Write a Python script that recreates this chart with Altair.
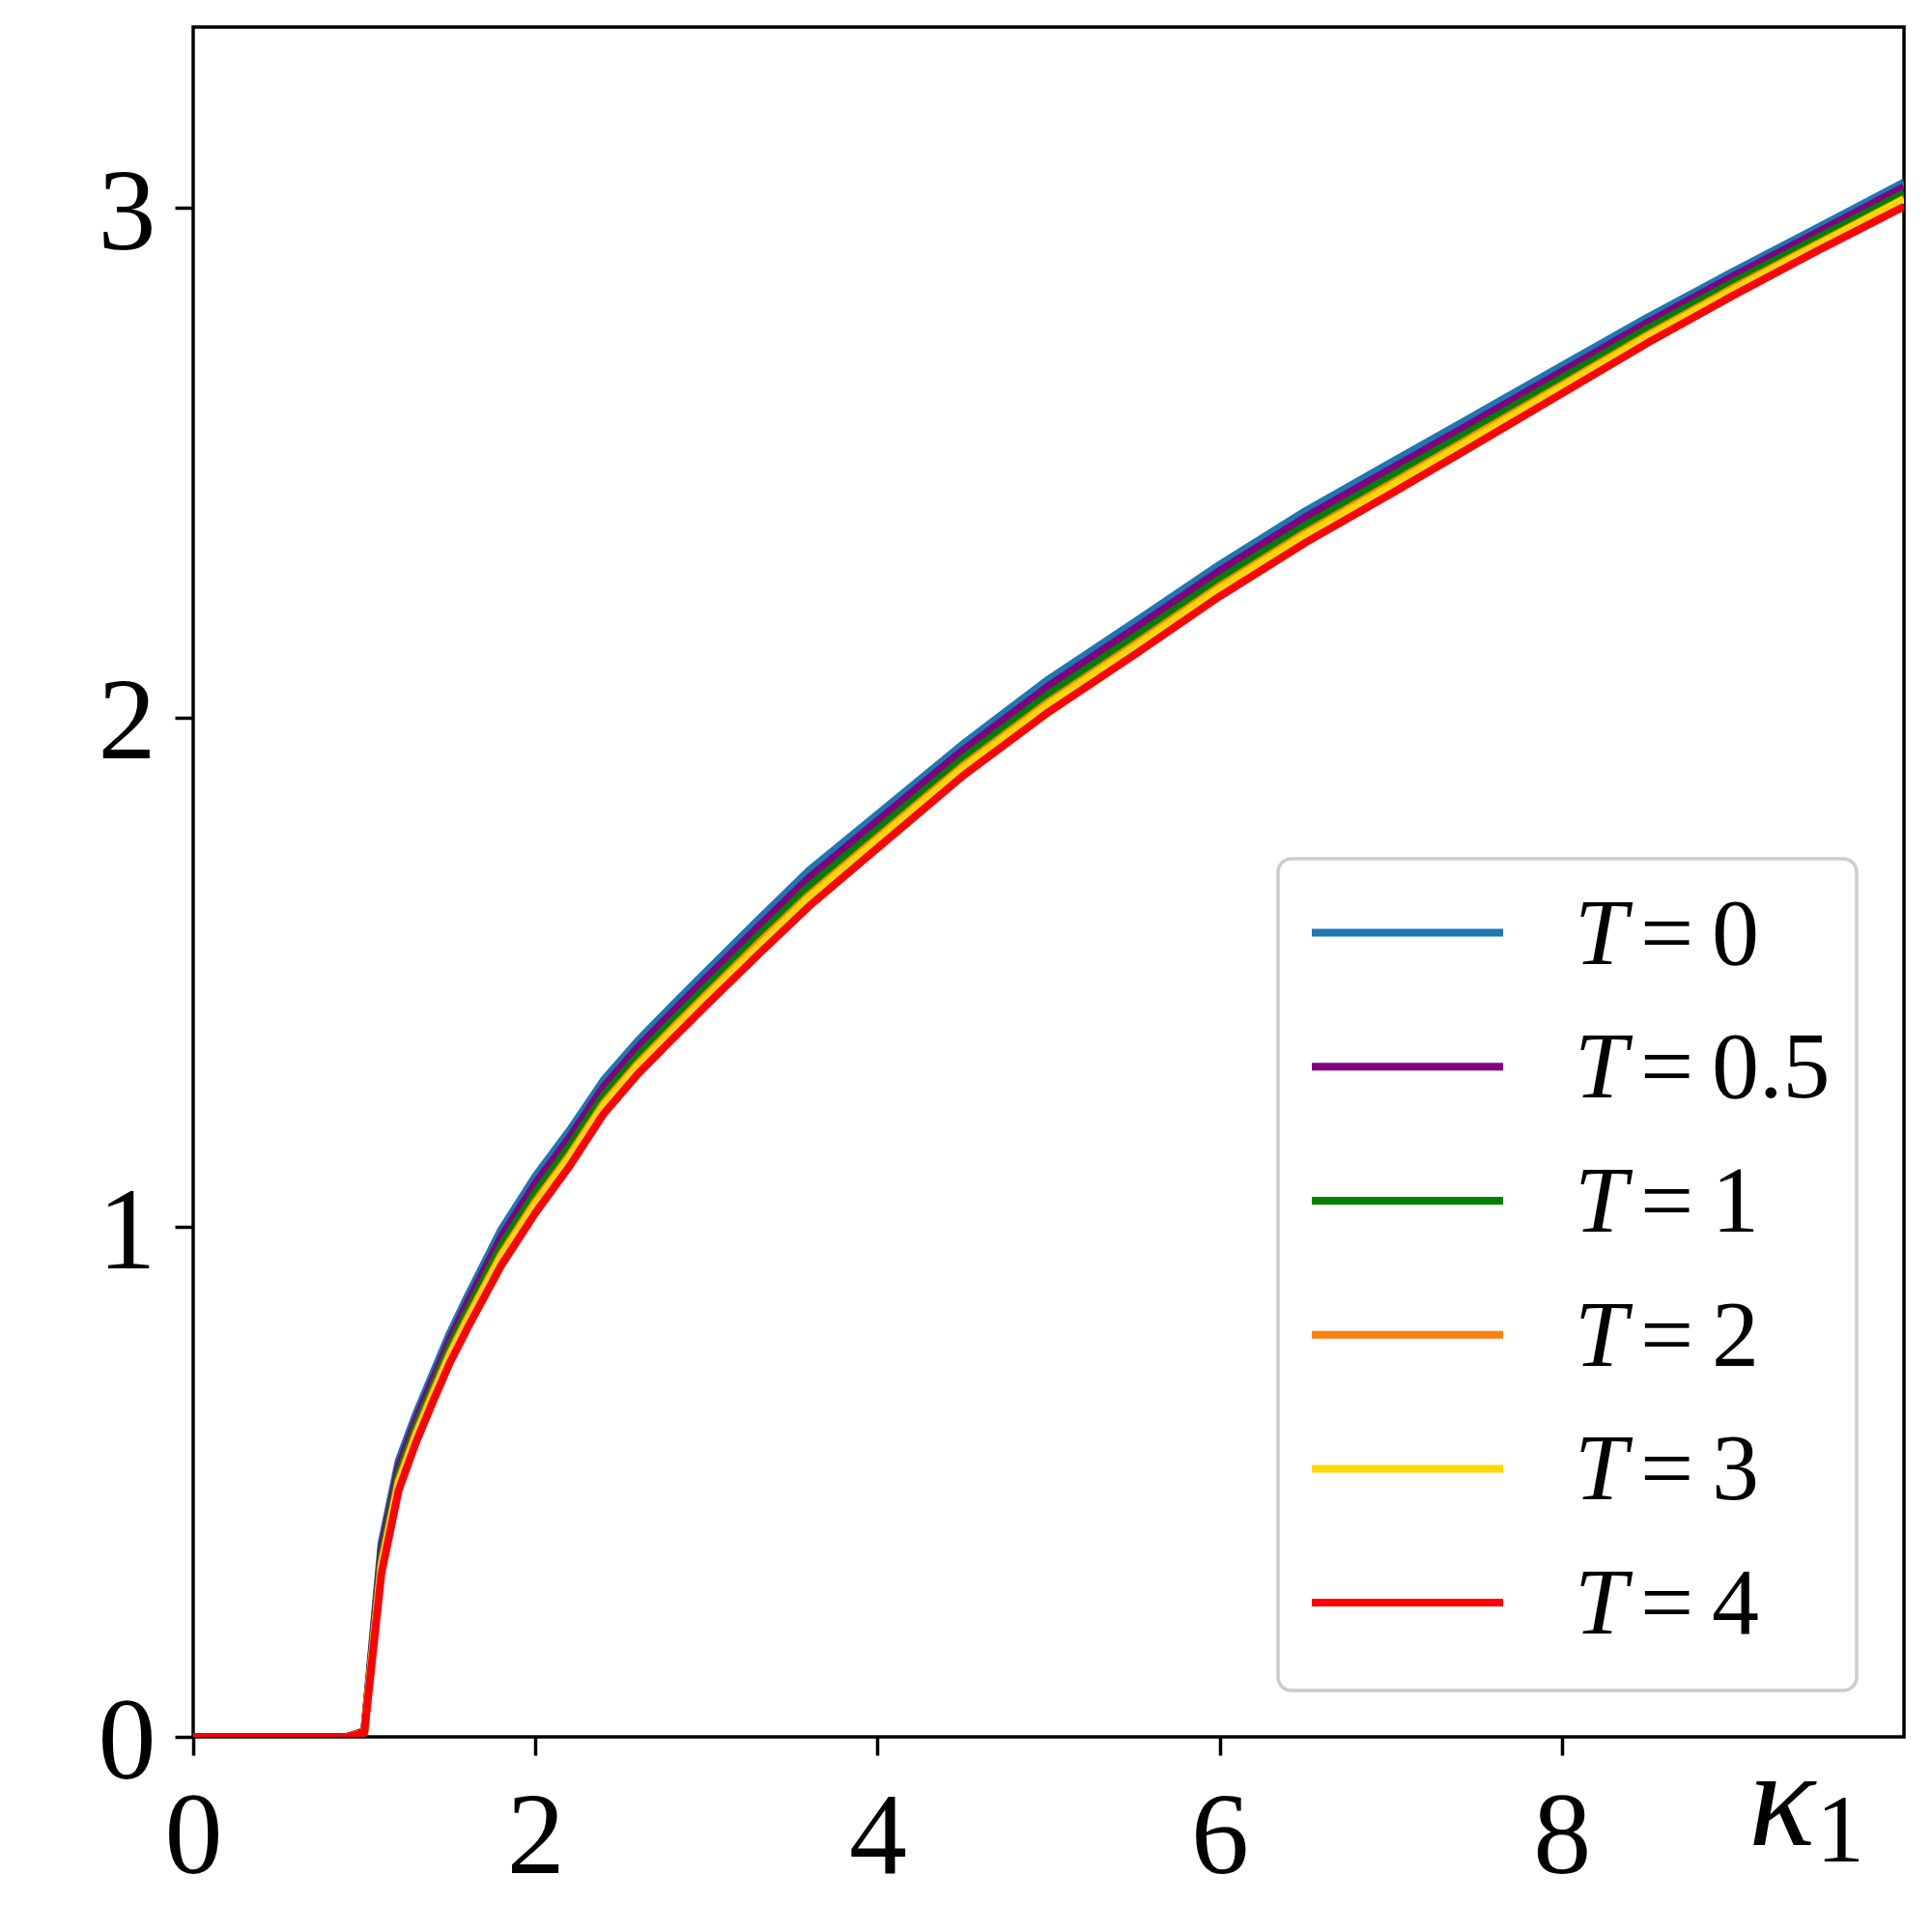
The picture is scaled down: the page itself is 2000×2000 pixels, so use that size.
import altair as alt
import pandas as pd

# ---- data ----
kappa = [0.0, 0.9, 1.0, 1.1, 1.2, 1.3, 1.4, 1.5, 1.6, 1.8, 2.0, 2.2, 2.4, 2.6, 2.8,
         3.0, 3.3, 3.6, 4.0, 4.5, 5.0, 5.5, 6.0, 6.5, 7.0, 7.5, 8.0, 8.5, 9.0, 9.5, 10.0]

val_T0 = [0, 0, 0.012, 0.380, 0.541, 0.632, 0.712, 0.792, 0.862, 0.995, 1.100, 1.190, 1.289, 1.366, 1.435,
          1.502, 1.602, 1.700, 1.810, 1.948, 2.075, 2.187, 2.300, 2.405, 2.500, 2.595, 2.690, 2.785, 2.875, 2.962, 3.050]
val_T05 = [0, 0, 0.011, 0.368, 0.529, 0.621, 0.701, 0.780, 0.850, 0.981, 1.086, 1.176, 1.276, 1.353, 1.422,
           1.489, 1.588, 1.686, 1.797, 1.936, 2.062, 2.174, 2.288, 2.393, 2.488, 2.583, 2.679, 2.775, 2.866, 2.953, 3.041]
val_T1 = [0, 0, 0.010, 0.353, 0.515, 0.607, 0.687, 0.766, 0.834, 0.964, 1.068, 1.159, 1.259, 1.337, 1.405,
          1.472, 1.571, 1.669, 1.780, 1.920, 2.046, 2.158, 2.272, 2.377, 2.473, 2.569, 2.666, 2.763, 2.854, 2.942, 3.029]
val_T2 = [0, 0, 0.009, 0.339, 0.502, 0.594, 0.675, 0.753, 0.820, 0.947, 1.051, 1.142, 1.244, 1.322, 1.390,
          1.457, 1.556, 1.652, 1.765, 1.906, 2.031, 2.143, 2.258, 2.363, 2.459, 2.556, 2.653, 2.751, 2.843, 2.931, 3.018]
val_T3 = [0, 0, 0.009, 0.334, 0.497, 0.589, 0.670, 0.748, 0.815, 0.942, 1.045, 1.137, 1.239, 1.317, 1.385,
          1.452, 1.550, 1.647, 1.760, 1.901, 2.026, 2.138, 2.253, 2.358, 2.454, 2.551, 2.649, 2.747, 2.839, 2.928, 3.017]
val_T4 = [0, 0, 0.008, 0.320, 0.483, 0.576, 0.657, 0.734, 0.800, 0.925, 1.028, 1.120, 1.223, 1.301, 1.369,
          1.436, 1.534, 1.630, 1.744, 1.886, 2.011, 2.123, 2.238, 2.343, 2.439, 2.537, 2.636, 2.735, 2.828, 2.917, 3.003]

series_labels = ["0", "0.5", "1", "2", "3", "4"]
series_values = [val_T0, val_T05, val_T1, val_T2, val_T3, val_T4]
series_colors = ["#1f77b4", "#800080", "#008000", "#ff7f0e", "#ffd700", "#ff0000"]

x_ticks = [0, 2, 4, 6, 8]
y_ticks = [0, 1, 2, 3]

# ---- layout ----
W, H = 1771, 1770
FONT = "Liberation Serif, Times New Roman, serif"
LW = 8

xscale = alt.Scale(domain=[0, 10], nice=False, zero=False)
yscale = alt.Scale(domain=[0, 3.355], nice=False, zero=False)

xaxis = alt.Axis(values=x_ticks, domain=False, grid=False, ticks=True, tickSize=19, tickWidth=3.5,
                 tickColor="black", labelFont=FONT, labelFontSize=120, labelColor="black",
                 labelPadding=26, labelFlush=False, labelOverlap=False, title=None)
yaxis = alt.Axis(values=y_ticks, domain=False, grid=False, ticks=True, tickSize=19, tickWidth=3.5,
                 tickColor="black", labelFont=FONT, labelFontSize=120, labelColor="black",
                 labelPadding=20, labelOffset=6, labelFlush=False, labelOverlap=False, title=None)

layers = []
for lab, vals, col in zip(series_labels, series_values, series_colors):
    df = pd.DataFrame({"kappa": kappa, "v": vals})
    layers.append(
        alt.Chart(df).mark_line(color=col, strokeWidth=LW, strokeJoin="round", clip=True).encode(
            x=alt.X("kappa:Q", scale=xscale, axis=xaxis),
            y=alt.Y("v:Q", scale=yscale, axis=yaxis),
            order=alt.Order("kappa:Q"),
        )
    )

one = pd.DataFrame({"a": [0]})

# legend frame
layers.append(
    alt.Chart(one).mark_rect(fill="white", stroke="#cccccc", strokeWidth=3.5, cornerRadius=14).encode(
        x=alt.value(1123), x2=alt.value(1722), y=alt.value(861), y2=alt.value(1722)
    )
)

row0, drow = 937.6, 138.7
for i, (lab, col) in enumerate(zip(series_labels, series_colors)):
    yy = row0 + i * drow
    layers.append(
        alt.Chart(one).mark_rule(color=col, strokeWidth=LW).encode(
            x=alt.value(1158), x2=alt.value(1356), y=alt.value(yy)
        )
    )
    layers.append(
        alt.Chart(one).mark_text(text="T", font=FONT, fontStyle="italic", fontSize=98,
                                 align="left", baseline="alphabetic", color="black").encode(
            x=alt.value(1430), y=alt.value(yy + 32)
        )
    )
    layers.append(
        alt.Chart(one).mark_text(text="=", font=FONT, fontSize=98,
                                 align="left", baseline="alphabetic", color="black").encode(
            x=alt.value(1498), y=alt.value(yy + 32)
        )
    )
    layers.append(
        alt.Chart(pd.DataFrame({"label": [lab]})).mark_text(font=FONT, fontSize=98,
                                 align="left", baseline="alphabetic", color="black").encode(
            x=alt.value(1572), y=alt.value(yy + 32), text="label:N"
        )
    )

# axis title kappa_1
layers.append(
    alt.Chart(one).mark_text(text="κ", font=FONT, fontStyle="italic", fontSize=144,
                             align="left", baseline="alphabetic", color="black").encode(
        x=alt.value(1610), y=alt.value(1882)
    )
)
layers.append(
    alt.Chart(one).mark_text(text="1", font=FONT, fontSize=100,
                             align="left", baseline="alphabetic", color="black").encode(
        x=alt.value(1680), y=alt.value(1899)
    )
)

chart = alt.layer(*layers).properties(
    width=W, height=H,
    padding={"left": 192, "top": 20, "right": 21, "bottom": 200},
    autosize="none",
    background="white",
).configure_view(stroke="black", strokeWidth=3.5)

chart.save("out.html", embed_options={"renderer": "svg", "actions": False})
